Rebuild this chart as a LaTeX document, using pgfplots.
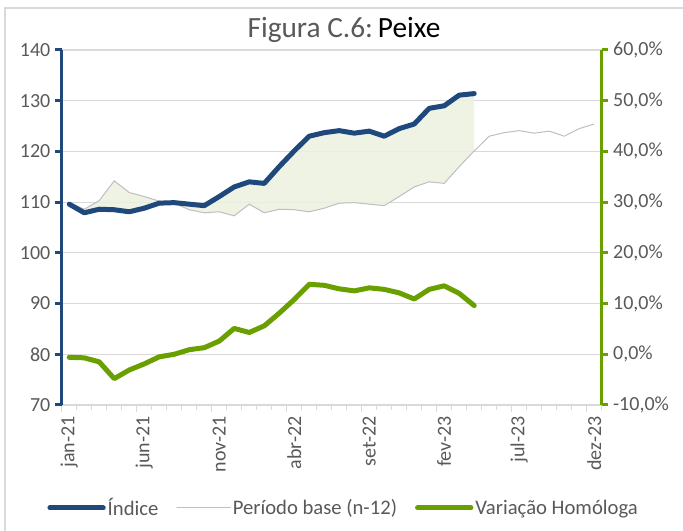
\documentclass[border=0pt]{standalone}
\usepackage{pgfplots}
\pgfplotsset{compat=1.18}
\usepackage{pgfplotstable}
\usepgfplotslibrary{fillbetween}
\usepackage{fontspec}
\setmainfont{Carlito}

\definecolor{idxblue}{HTML}{1F497D}
\definecolor{vargreen}{HTML}{6A9F00}
\definecolor{basegray}{HTML}{BFBFBF}
\definecolor{gridgray}{HTML}{D9D9D9}
\definecolor{areagreen}{HTML}{EBF1DE}
\definecolor{txtgray}{HTML}{595959}

% jan-21 = 0 ... dez-23 = 35
\pgfplotstableread{
x y
0 109.6
1 107.9
2 108.6
3 108.5
4 108.1
5 108.8
6 109.8
7 109.9
8 109.6
9 109.3
10 111.1
11 113.0
12 114.0
13 113.7
14 117.0
15 120.1
16 123.0
17 123.7
18 124.1
19 123.6
20 124.0
21 123.0
22 124.5
23 125.4
24 128.5
25 129.0
26 131.1
27 131.4
}\indice

\pgfplotstableread{
x y
0 109.9
1 108.6
2 110.3
3 114.2
4 111.9
5 111.1
6 110.2
7 109.8
8 108.5
9 107.9
10 108.1
11 107.3
12 109.6
13 107.9
14 108.6
15 108.5
16 108.1
17 108.8
18 109.8
19 109.9
20 109.6
21 109.3
22 111.1
23 113.0
24 114.0
25 113.7
26 117.0
27 120.1
28 123.0
29 123.7
30 124.1
31 123.6
32 124.0
33 123.0
34 124.5
35 125.4
}\base

\pgfplotstableread{
x y
0 -0.6
1 -0.7
2 -1.5
3 -4.8
4 -3.1
5 -1.9
6 -0.5
7 0.0
8 0.9
9 1.3
10 2.6
11 5.1
12 4.3
13 5.6
14 8.1
15 10.8
16 13.8
17 13.6
18 12.9
19 12.5
20 13.1
21 12.8
22 12.1
23 10.9
24 12.8
25 13.5
26 12.0
27 9.6
}\variacao

\pgfplotsset{
  chartbase/.style={
    at={(46.3pt,94.5pt)}, anchor=south west,
    scale only axis, width=405pt, height=266.25pt,
    xmin=-0.5, xmax=35.5,
    tick align=outside,
    major tick length=5pt, minor tick length=3.75pt,
    tick label style={font=\fontsize{15}{18}\selectfont, text=txtgray},
    /pgf/number format/assume math mode=true,
    clip=false,
  }
}

\begin{document}
\begin{tikzpicture}
\begin{axis}[chartbase,
    ymin=70, ymax=140,
    axis y line*=left, axis x line*=bottom,
    ytick={70,80,...,140},
    xtick={-0.5,4.5,...,34.5},
    xticklabels={jan-21,jun-21,nov-21,abr-22,set-22,fev-23,jul-23,dez-23},
    minor xtick={-0.5,0.5,...,35.5},
    xticklabel style={xshift=5.6pt, rotate=90, anchor=east},
    xtick style={draw=gridgray, line width=0.9pt},
    ytick style={draw=idxblue, line width=2.25pt},
    x axis line style={draw=gridgray, line width=1pt, -},
    y axis line style={draw=idxblue, line width=2.25pt, -},
    ymajorgrids, major grid style={draw=gridgray, line width=0.9pt},
    legend style={at={(0.522,-0.29)}, anchor=center, draw=none, fill=none,
      font=\fontsize{15.5}{18}\selectfont, text=txtgray,
      nodes={inner sep=1.5pt},
      /tikz/every even column/.append style={column sep=12pt}},
    legend columns=3,
    legend cell align=left,
    legend image code/.code={\draw[#1, line cap=round] (0pt,0pt) -- (40pt,0pt);},
  ]
  \addlegendimage{idxblue, line width=3.75pt}
  \addlegendentry{Índice}
  \addlegendimage{basegray, line width=0.75pt}
  \addlegendentry{Período base (n-12)}
  \addlegendimage{vargreen, line width=3.75pt}
  \addlegendentry{Variação Homóloga}

  \addplot[draw=none, name path=A, forget plot] table[x=x, y=y] {\indice};
  \addplot[draw=none, name path=B, forget plot, restrict x to domain=0:27] table[x=x, y=y] {\base};
  \addplot[areagreen, fill opacity=0.85, forget plot] fill between[of=A and B];
  \addplot[basegray, line width=0.75pt, forget plot] table[x=x, y=y] {\base};
  \addplot[idxblue, line width=3.75pt, line cap=round, line join=round, forget plot] table[x=x, y=y] {\indice};
\end{axis}

\begin{axis}[chartbase,
    ymin=-10, ymax=60,
    axis x line=none, axis y line*=right,
    ytick={-10,0,...,60},
    yticklabel={\pgfmathprintnumber[fixed, fixed zerofill, precision=1, use comma]{\tick}\%},
    ytick style={draw=vargreen, line width=2.25pt},
    y axis line style={draw=vargreen, line width=2.25pt, -},
  ]
  \addplot[vargreen, line width=3.75pt, line cap=round, line join=round] table[x=x, y=y] {\variacao};
\end{axis}

\node[font=\fontsize{22}{26}\selectfont, text=txtgray] at (258pt,375.75pt) {Figura C.6:\,\textcolor{black}{Peixe}};
\draw[gridgray, line width=1pt] (3.75pt,-5pt) -- (3.75pt,392.25pt) -- (520pt,392.25pt);
\pgfresetboundingbox
\path[use as bounding box] (0,0) rectangle (512.25pt,398.25pt);
\end{tikzpicture}
\end{document}
